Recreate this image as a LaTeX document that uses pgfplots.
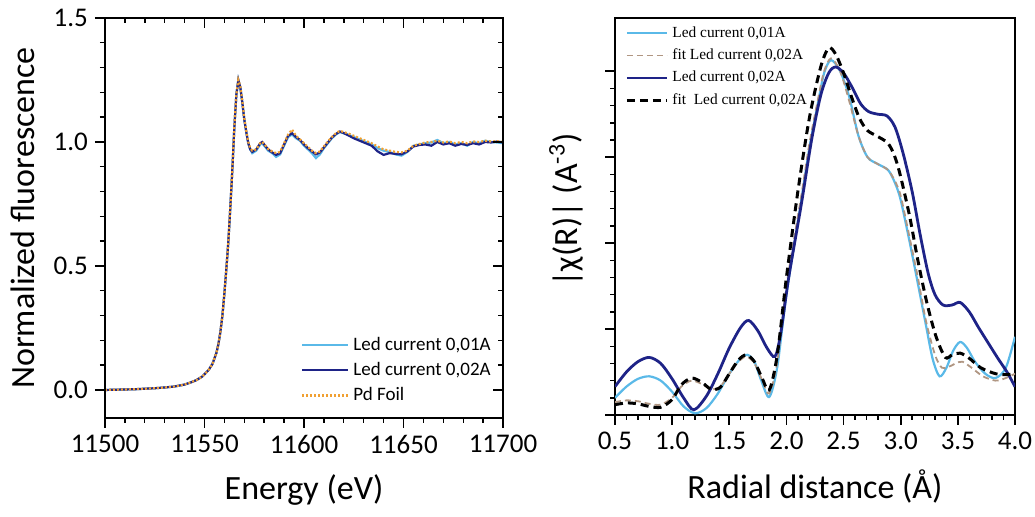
\documentclass[border=0pt]{standalone}
\usepackage{fontspec}
\setmainfont{Carlito}
\newfontfamily\tnr{Liberation Serif}
\usepackage{pgfplots}
\usepackage{pgfplotstable}
\pgfplotsset{compat=1.18}

\definecolor{lblue}{RGB}{90,185,232}
\definecolor{navy}{RGB}{30,35,135}
\definecolor{tanc}{RGB}{176,150,130}
\definecolor{pdor}{RGB}{240,160,50}

\pgfplotstableread{
x y
11500 0.000
11505 0.001
11510 0.002
11515 0.003
11520 0.005
11525 0.007
11530 0.010
11535 0.014
11540 0.022
11543 0.030
11546 0.040
11549 0.055
11552 0.080
11554 0.105
11556 0.150
11557 0.185
11558 0.235
11559 0.300
11560 0.390
11561 0.490
11562 0.600
11563 0.740
11564 0.890
11565 1.060
11566 1.190
11567 1.250
11568 1.220
11569 1.160
11570 1.090
11571 1.040
11572 0.995
11573 0.970
11574 0.955
11576 0.965
11578 0.990
11579 0.995
11580 0.985
11582 0.965
11584 0.955
11586 0.940
11588 0.950
11590 0.985
11592 1.020
11594 1.030
11596 1.015
11598 1.005
11600 0.985
11602 0.970
11604 0.955
11606 0.935
11608 0.950
11610 0.975
11612 0.995
11614 1.015
11616 1.030
11618 1.040
11620 1.035
11622 1.030
11625 1.020
11628 1.010
11631 1.000
11634 0.990
11637 0.975
11640 0.965
11643 0.960
11646 0.950
11649 0.945
11652 0.960
11655 0.985
11658 0.990
11661 0.995
11664 0.998
11667 1.008
11670 0.995
11673 1.000
11676 0.990
11679 0.995
11682 0.985
11685 1.000
11688 0.995
11691 1.005
11694 1.000
11697 0.998
11700 0.995
}\ledA

\pgfplotstableread{
x y
11500 0.000
11505 0.001
11510 0.002
11515 0.003
11520 0.005
11525 0.007
11530 0.010
11535 0.014
11540 0.022
11543 0.030
11546 0.040
11549 0.055
11552 0.080
11554 0.105
11556 0.150
11557 0.185
11558 0.235
11559 0.300
11560 0.390
11561 0.490
11562 0.600
11563 0.740
11564 0.890
11565 1.060
11566 1.190
11567 1.250
11568 1.220
11569 1.160
11570 1.090
11571 1.040
11572 0.995
11573 0.970
11574 0.960
11576 0.970
11578 0.995
11579 1.000
11580 0.990
11582 0.970
11584 0.958
11586 0.948
11588 0.955
11590 0.990
11592 1.025
11594 1.035
11596 1.020
11598 1.008
11600 0.990
11602 0.975
11604 0.962
11606 0.950
11608 0.958
11610 0.978
11612 0.998
11614 1.018
11616 1.032
11618 1.042
11620 1.036
11622 1.028
11625 1.015
11628 1.005
11631 0.995
11634 0.985
11637 0.962
11640 0.948
11643 0.955
11646 0.952
11649 0.950
11652 0.962
11655 0.982
11658 0.988
11661 0.990
11664 0.985
11667 1.000
11670 0.990
11673 0.995
11676 0.985
11679 0.992
11682 0.988
11685 0.995
11688 0.990
11691 1.000
11694 0.998
11697 1.002
11700 0.998
}\ledB

\pgfplotstableread{
x y
11500 0.000
11505 0.001
11510 0.002
11515 0.003
11520 0.005
11525 0.007
11530 0.010
11535 0.014
11540 0.022
11543 0.030
11546 0.040
11549 0.055
11552 0.080
11554 0.105
11556 0.150
11557 0.185
11558 0.235
11559 0.300
11560 0.390
11561 0.490
11562 0.600
11563 0.740
11564 0.890
11565 1.060
11566 1.190
11567 1.250
11568 1.225
11569 1.165
11570 1.095
11571 1.045
11572 1.000
11573 0.975
11574 0.965
11576 0.970
11578 0.995
11579 1.000
11580 0.992
11582 0.972
11584 0.962
11586 0.955
11588 0.960
11590 0.995
11592 1.030
11594 1.050
11596 1.025
11598 1.010
11600 0.995
11602 0.980
11604 0.965
11606 0.955
11608 0.962
11610 0.982
11612 1.002
11614 1.020
11616 1.035
11618 1.045
11620 1.040
11622 1.035
11625 1.025
11628 1.015
11631 1.005
11634 0.995
11637 0.982
11640 0.970
11643 0.965
11646 0.960
11649 0.958
11652 0.965
11655 0.985
11658 0.992
11661 0.998
11664 1.000
11667 1.005
11670 0.998
11673 1.002
11676 0.995
11679 1.000
11682 0.995
11685 1.002
11688 1.000
11691 1.005
11694 1.002
11697 1.003
11700 1.000
}\pdfoil

\pgfplotstableread{
x y
0.5 0.20
0.6 0.33
0.7 0.42
0.8 0.45
0.9 0.40
1.0 0.27
1.1 0.10
1.2 0.02
1.3 0.08
1.4 0.25
1.5 0.48
1.6 0.66
1.66 0.70
1.72 0.62
1.78 0.40
1.85 0.21
1.92 0.56
2.0 1.40
2.13 2.50
2.2 3.10
2.28 3.66
2.33 3.98
2.39 4.13
2.47 4.00
2.55 3.70
2.63 3.25
2.71 3.00
2.8 2.92
2.89 2.85
2.95 2.70
3.0 2.50
3.08 2.00
3.15 1.53
3.22 1.05
3.28 0.65
3.34 0.45
3.40 0.55
3.46 0.75
3.52 0.85
3.58 0.78
3.65 0.62
3.74 0.48
3.83 0.43
3.92 0.55
4.0 0.91
}\chiA

\pgfplotstableread{
x y
0.5 0.15
0.6 0.17
0.7 0.16
0.8 0.13
0.9 0.12
1.0 0.20
1.08 0.33
1.17 0.40
1.26 0.36
1.34 0.30
1.42 0.33
1.5 0.48
1.58 0.62
1.65 0.68
1.72 0.60
1.79 0.40
1.85 0.25
1.92 0.62
2.0 1.50
2.13 2.55
2.2 3.15
2.28 3.70
2.33 4.00
2.39 4.15
2.47 4.00
2.55 3.65
2.63 3.25
2.71 3.00
2.8 2.92
2.89 2.85
2.95 2.72
3.0 2.55
3.08 2.05
3.15 1.60
3.22 1.10
3.30 0.70
3.36 0.55
3.42 0.56
3.48 0.60
3.54 0.62
3.62 0.55
3.72 0.45
3.83 0.40
3.92 0.43
4.0 0.48
}\fitA

\pgfplotstableread{
x y
0.5 0.33
0.6 0.50
0.7 0.62
0.8 0.67
0.9 0.60
1.0 0.42
1.1 0.20
1.19 0.06
1.3 0.22
1.4 0.48
1.5 0.78
1.6 1.02
1.67 1.10
1.75 0.98
1.83 0.78
1.90 0.68
1.95 0.95
2.02 1.60
2.13 2.45
2.22 3.20
2.30 3.72
2.37 3.98
2.43 4.05
2.50 3.98
2.58 3.80
2.65 3.62
2.72 3.53
2.80 3.50
2.88 3.48
2.95 3.35
3.02 3.05
3.10 2.60
3.17 2.10
3.24 1.65
3.30 1.40
3.37 1.28
3.45 1.28
3.52 1.31
3.60 1.20
3.68 1.02
3.76 0.85
3.85 0.66
3.93 0.50
4.0 0.33
}\chiB

\pgfplotstableread{
x y
0.5 0.12
0.6 0.14
0.7 0.13
0.8 0.10
0.9 0.09
1.0 0.18
1.08 0.35
1.17 0.43
1.26 0.38
1.34 0.30
1.42 0.32
1.5 0.48
1.58 0.64
1.65 0.70
1.72 0.62
1.79 0.42
1.85 0.29
1.92 0.70
2.0 1.60
2.1 2.60
2.2 3.45
2.3 4.05
2.37 4.27
2.43 4.20
2.50 3.98
2.57 3.70
2.64 3.45
2.71 3.31
2.80 3.24
2.89 3.16
2.95 3.00
3.0 2.77
3.08 2.30
3.15 1.80
3.23 1.30
3.31 0.91
3.39 0.67
3.45 0.70
3.52 0.72
3.60 0.66
3.70 0.55
3.83 0.48
3.92 0.47
4.0 0.48
}\fitB

\pgfplotsset{
  common/.style={
    scale only axis,
    axis line style={line width=0.9pt},
    major tick length=5pt,
    minor tick length=2.5pt,
    every major tick/.append style={black, line width=0.9pt},
    every minor tick/.append style={black, line width=0.7pt},
    tick label style={font=\fontsize{13.5}{14}\selectfont},
    label style={font=\fontsize{17}{18}\selectfont},
    /pgf/number format/assume math mode=true,
    scaled x ticks=false, scaled y ticks=false,
  }
}

\begin{document}
\begin{tikzpicture}
\path[use as bounding box] (0,0) rectangle (517.5pt,258.5pt);
% left panel
\begin{axis}[common,
  at={(52.5pt,49.5pt)}, anchor=south west,
  width=199pt, height=200pt,
  xmin=11500, xmax=11700, ymin=-0.113, ymax=1.5,
  xtick={11500,11550,11600,11650,11700}, minor x tick num=4,
  ytick={0,0.5,1,1.5}, minor y tick num=4,
  tick align=outside, xtick pos=left, ytick pos=left,
  xticklabel style={/pgf/number format/1000 sep={}},
  yticklabel style={/pgf/number format/.cd, fixed, fixed zerofill, precision=1},
  xlabel={Energy (eV)}, ylabel={Normalized fluorescence},
  xlabel style={at={(axis description cs:0.5,-0.18)}, anchor=center},
  ylabel style={at={(axis description cs:-0.206,0.5)}, anchor=center},
  legend style={draw=none, fill=none, at={(0.985,0.02)}, anchor=south east,
    font=\fontsize{9.5}{11}\selectfont, row sep=0.5pt, inner sep=1pt},
  legend cell align=left,
  legend image code/.code={\draw[#1] (0pt,0pt) -- (23pt,0pt);},
]
\addplot[lblue, line width=1.1pt] table {\ledA};
\addlegendentry{Led current 0,01A}
\addplot[navy, line width=1.1pt] table {\ledB};
\addlegendentry{Led current 0,02A}
\addplot[pdor, line width=1.1pt, dash pattern=on 1pt off 1pt] table {\pdfoil};
\addlegendentry{Pd Foil}
\end{axis}
% mirrored inward ticks on top/right of left panel
\begin{axis}[common,
  at={(52.5pt,49.5pt)}, anchor=south west,
  width=199pt, height=200pt,
  xmin=11500, xmax=11700, ymin=-0.113, ymax=1.5,
  xtick={11500,11550,11600,11650,11700}, minor x tick num=4,
  ytick={0,0.5,1,1.5}, minor y tick num=4,
  tick align=inside, xtick pos=right, ytick pos=right,
  xticklabels={}, yticklabels={},
]
\end{axis}
% right panel
\begin{axis}[common,
  at={(307.5pt,51pt)}, anchor=south west,
  width=200pt, height=198.5pt,
  xmin=0.5, xmax=4.0, ymin=0, ymax=4.62,
  xtick={0.5,1.0,1.5,2.0,2.5,3.0,3.5,4.0}, minor x tick num=4,
  ytick={0,1,2,3,4}, minor y tick num=4, yticklabels={},
  tick align=outside, xtick pos=left, ytick pos=left,
  xticklabel style={/pgf/number format/.cd, fixed, fixed zerofill, precision=1},
  xlabel={Radial distance (Å)}, ylabel={|χ(R)| (A\textsuperscript{-3})},
  xlabel style={at={(axis description cs:0.5,-0.18)}, anchor=center},
  ylabel style={at={(axis description cs:-0.1225,0.516)}, anchor=center},
  legend style={draw=none, fill=none, at={(0.02,0.995)}, anchor=north west,
    font=\tnr\fontsize{7.7}{9}\selectfont, row sep=0.3pt, inner sep=1pt},
  legend cell align=left,
  legend image code/.code={\draw[#1] (0pt,0pt) -- (20pt,0pt);},
]
\addplot[lblue, line width=1.1pt, smooth] table {\chiA};
\addlegendentry{Led current 0,01A}
\addplot[tanc, line width=0.9pt, smooth, dash pattern=on 3pt off 2pt] table {\fitA};
\addlegendentry{fit Led current 0,02A}
\addplot[navy, line width=1.4pt, smooth] table {\chiB};
\addlegendentry{Led current 0,02A}
\addplot[black, line width=1.5pt, smooth, dash pattern=on 4pt off 2.5pt] table {\fitB};
\addlegendentry{fit\ \ Led current 0,02A}
\end{axis}
\end{tikzpicture}
\end{document}
